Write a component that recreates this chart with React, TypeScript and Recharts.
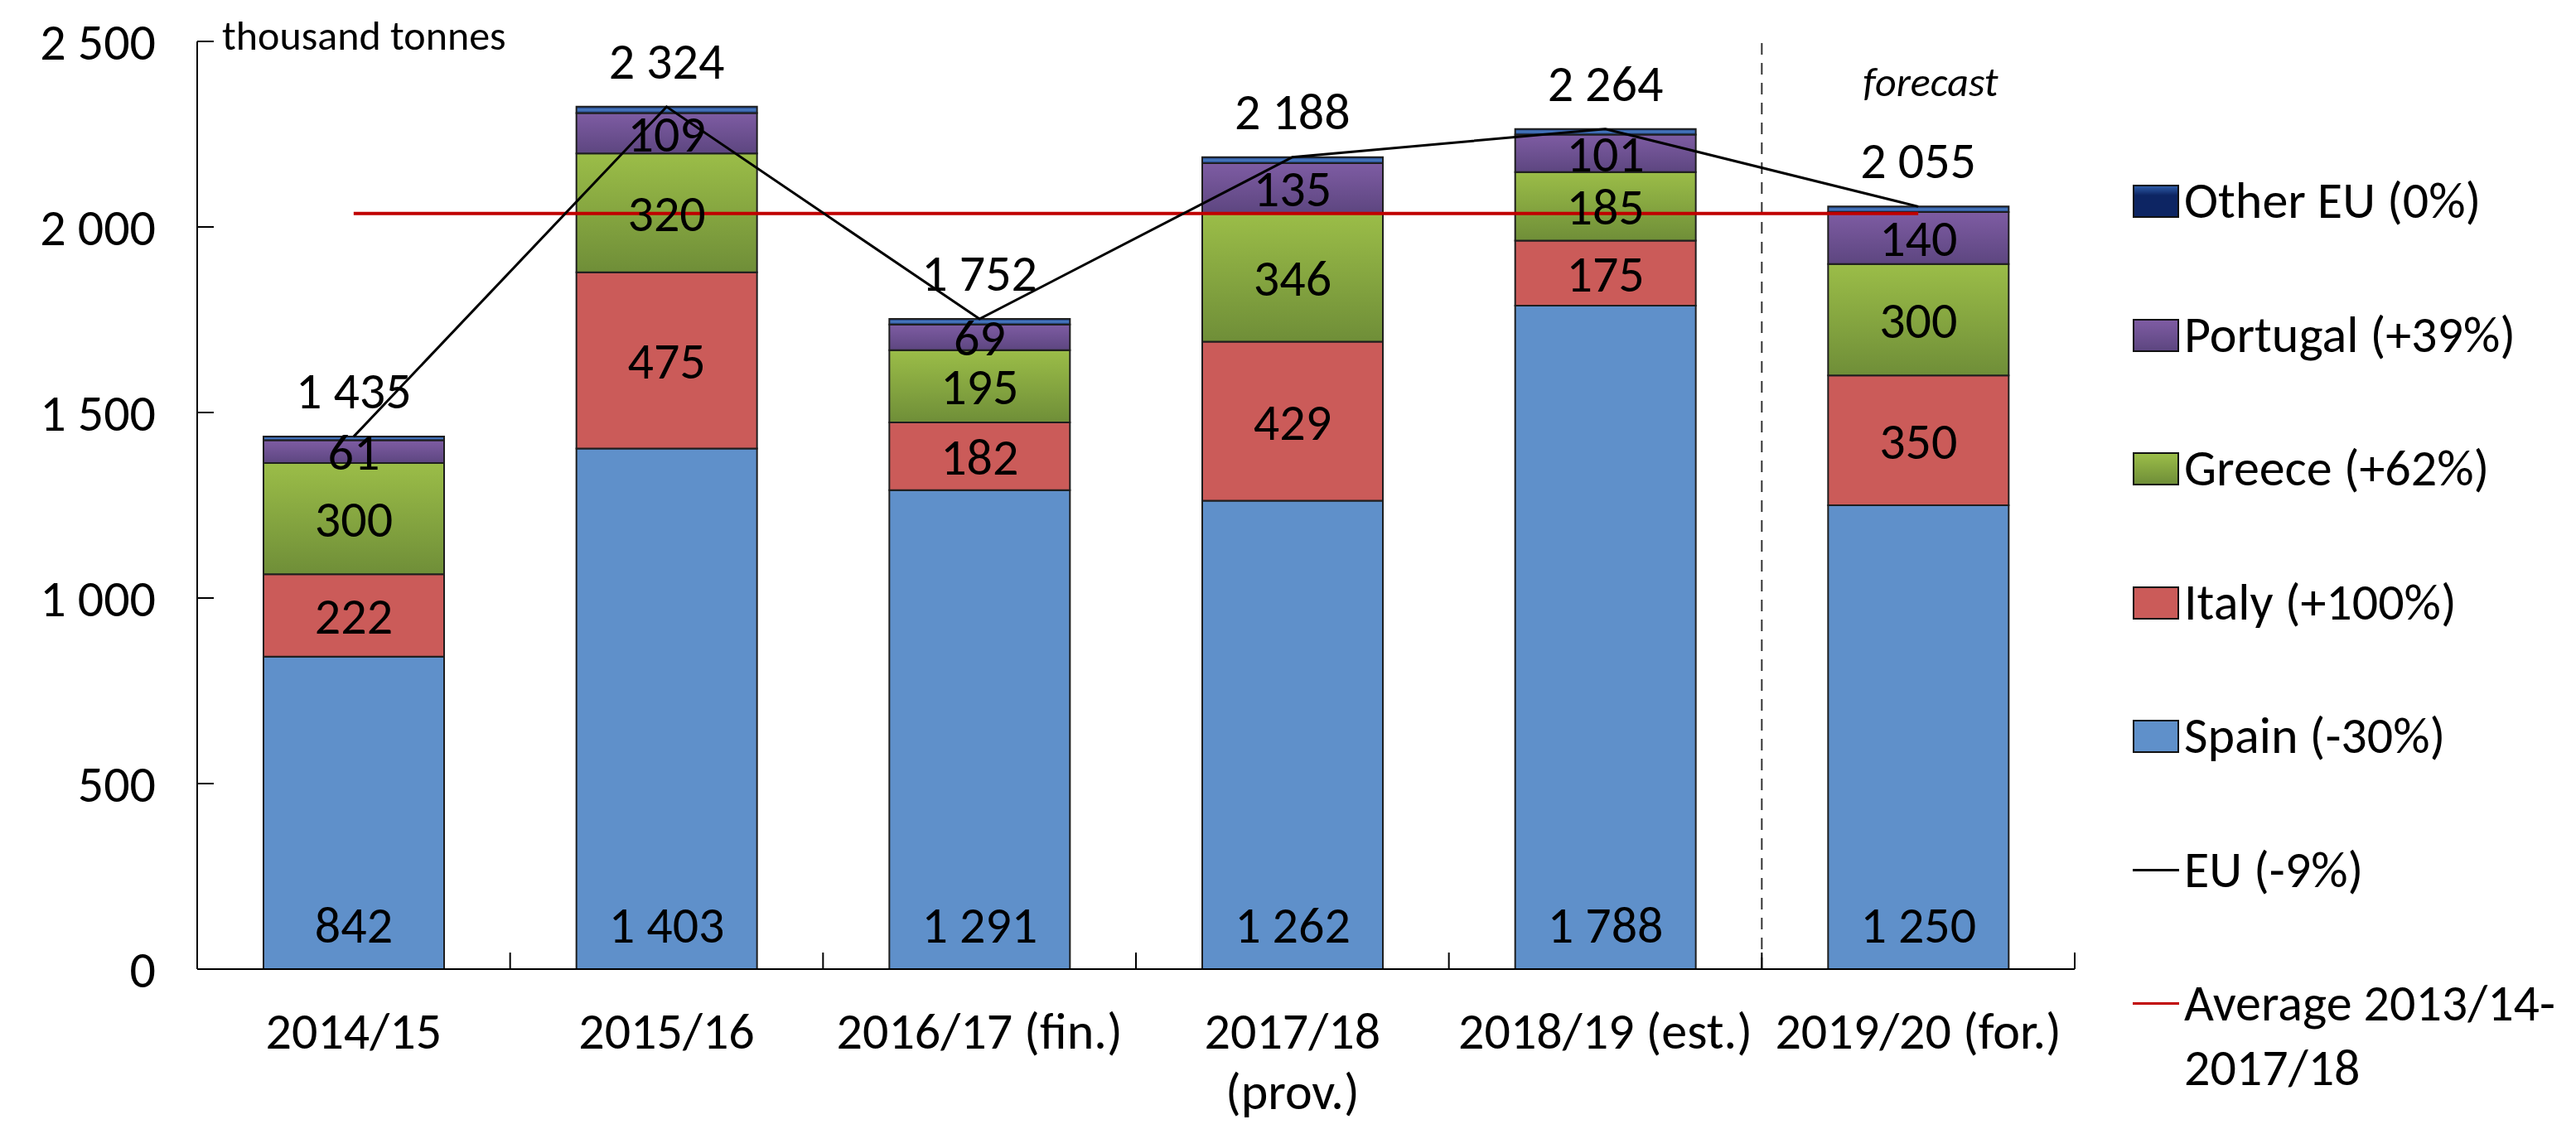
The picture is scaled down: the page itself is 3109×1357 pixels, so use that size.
import React from "react"
import { ComposedChart, Bar, Line, XAxis, YAxis, LabelList, ReferenceLine } from "recharts"

const seasons = ["2014/15", "2015/16", "2016/17 (fin.)", "2017/18\n(prov.)", "2018/19 (est.)", "2019/20 (for.)"]
const spain = [842, 1403, 1291, 1262, 1788, 1250]
const italy = [222, 475, 182, 429, 175, 350]
const greece = [300, 320, 195, 346, 185, 300]
const portugal = [61, 109, 69, 135, 101, 140]
const otherEU = [10, 17, 15, 16, 15, 15]
const euTotal = [1435, 2324, 1752, 2188, 2264, 2055]
const average = 2036
const yTicks = [0, 500, 1000, 1500, 2000, 2500]

const legendItems = [
  { label: "Other EU (0%)", kind: "box", bg: "linear-gradient(#2d5aa6, #0d2563 30%, #0d2563)" },
  { label: "Portugal (+39%)", kind: "box", bg: "linear-gradient(#7e5ca3, #5d4680)" },
  { label: "Greece (+62%)", kind: "box", bg: "linear-gradient(#9bbd48, #6f8e38)" },
  { label: "Italy (+100%)", kind: "box", bg: "#cb5b59" },
  { label: "Spain (-30%)", kind: "box", bg: "#5f90ca" },
  { label: "EU (-9%)", kind: "line", bg: "#000" },
  { label: "Average 2013/14-\n2017/18", kind: "line", bg: "#c00000" },
]

const data = seasons.map((season, i) => ({
  season,
  spain: spain[i],
  italy: italy[i],
  greece: greece[i],
  portugal: portugal[i],
  other: otherEU[i],
  eu: euTotal[i],
  avg: average,
}))

const FONT = "Carlito, Calibri, Lato, sans-serif"
const W = 3109
const H = 1357
const PLOT_LEFT = 238
const PLOT_RIGHT = 2504
const BAND = (PLOT_RIGHT - PLOT_LEFT) / seasons.length
const FS = 62

const fmt = (v: any) => String(v).replace(/\B(?=(\d{3})+(?!\d))/g, " ")

function XTick(props: any) {
  const { x, y, payload } = props
  const lines = String(payload.value).split("\n")
  return (
    <g>
      <line x1={x + BAND / 2} x2={x + BAND / 2} y1={y} y2={y - 20} stroke="#000" strokeWidth={2} />
      {lines.map((l, i) => (
        <text key={i} x={x} y={y + 96 + i * 73} textAnchor="middle" fontSize={FS} fontFamily={FONT} fill="#000">
          {l}
        </text>
      ))}
    </g>
  )
}

function YTick(props: any) {
  const { x, y, payload } = props
  return (
    <g>
      <line x1={x + 50} x2={x + 70} y1={y} y2={y} stroke="#000" strokeWidth={2} />
      <text x={x} y={y} dy="0.36em" textAnchor="end" fontSize={FS} fontFamily={FONT} fill="#000">
        {fmt(payload.value)}
      </text>
    </g>
  )
}

const labelStyle = { fontSize: FS, fontFamily: FONT, fill: "#000" }

export default function App() {
  return (
    <div style={{ position: "absolute", left: 0, top: 0, width: W, height: H, background: "#fff", fontFamily: FONT }}>
      <ComposedChart width={W} height={H} data={data} margin={{ top: 50, right: W - PLOT_RIGHT, bottom: 0, left: 0 }}>
        <defs>
          <linearGradient id="gGreece" x1="0" y1="0" x2="0" y2="1">
            <stop offset="0%" stopColor="#9bbd48" />
            <stop offset="100%" stopColor="#6f8e38" />
          </linearGradient>
          <linearGradient id="gPortugal" x1="0" y1="0" x2="0" y2="1">
            <stop offset="0%" stopColor="#7e5ca3" />
            <stop offset="100%" stopColor="#5d4680" />
          </linearGradient>
          <linearGradient id="gOther" x1="0" y1="0" x2="0" y2="1">
            <stop offset="0%" stopColor="#1b3a7a" />
            <stop offset="50%" stopColor="#4a7cc4" />
            <stop offset="100%" stopColor="#1b3a7a" />
          </linearGradient>
        </defs>
        <XAxis
          dataKey="season"
          height={187}
          interval={0}
          tickSize={0}
          tickMargin={0}
          tickLine={false}
          tick={<XTick />}
          axisLine={{ stroke: "#000", strokeWidth: 2 }}
        />
        <YAxis
          domain={[0, 2500]}
          ticks={yTicks}
          width={PLOT_LEFT}
          tickSize={0}
          tickMargin={50}
          tickLine={false}
          tick={<YTick />}
          axisLine={{ stroke: "#000", strokeWidth: 2 }}
        />
        <Bar dataKey="spain" stackId="a" barSize={218} fill="#5f90ca" stroke="#1e1e1e" strokeWidth={2} isAnimationActive={false}>
          <LabelList dataKey="spain" position="insideBottom" offset={32} formatter={fmt} style={labelStyle} />
        </Bar>
        <Bar dataKey="italy" stackId="a" barSize={218} fill="#cb5b59" stroke="#1e1e1e" strokeWidth={2} isAnimationActive={false}>
          <LabelList dataKey="italy" position="center" formatter={fmt} style={labelStyle} />
        </Bar>
        <Bar dataKey="greece" stackId="a" barSize={218} fill="url(#gGreece)" stroke="#1e1e1e" strokeWidth={2} isAnimationActive={false}>
          <LabelList dataKey="greece" position="center" formatter={fmt} style={labelStyle} />
        </Bar>
        <Bar dataKey="portugal" stackId="a" barSize={218} fill="url(#gPortugal)" stroke="#1e1e1e" strokeWidth={2} isAnimationActive={false}>
          <LabelList dataKey="portugal" position="center" formatter={fmt} style={labelStyle} />
        </Bar>
        <Bar dataKey="other" stackId="a" barSize={218} fill="url(#gOther)" stroke="#1e1e1e" strokeWidth={2} isAnimationActive={false} />
        <ReferenceLine x={seasons[5]} position="start" stroke="#333" strokeWidth={2} strokeDasharray="14 10" />
        <Line dataKey="avg" type="linear" stroke="#c00000" strokeWidth={4} dot={false} activeDot={false} isAnimationActive={false} />
        <Line dataKey="eu" type="linear" stroke="#000" strokeWidth={3} dot={false} activeDot={false} isAnimationActive={false}>
          <LabelList dataKey="eu" position="top" offset={34} formatter={fmt} style={labelStyle} />
        </Line>
      </ComposedChart>

      <div style={{ position: "absolute", left: 268, top: 13, fontSize: 50, lineHeight: "60px", whiteSpace: "nowrap" }}>
        thousand tonnes
      </div>
      <div style={{ position: "absolute", left: 2230, width: 200, textAlign: "center", top: 69, fontSize: 50, lineHeight: "60px", fontStyle: "italic" }}>
        forecast
      </div>

      {legendItems.map((item, i) => {
        const cy = 242 + i * 161.5
        return (
          <div key={item.label} style={{ position: "absolute", left: 2574, top: cy - 39, height: 78, display: "flex", alignItems: "flex-start" }}>
            <div style={{ width: 56, height: 78, position: "relative", flex: "none" }}>
              {item.kind === "box" ? (
                <div style={{ position: "absolute", left: 0, top: 20, width: 52, height: 36, background: item.bg, border: "2px solid #111" }} />
              ) : (
                <div style={{ position: "absolute", left: 0, top: 38, width: 56, height: 3, background: item.bg }} />
              )}
            </div>
            <div style={{ marginLeft: 6, fontSize: FS, lineHeight: "78px", whiteSpace: "pre" }}>{item.label}</div>
          </div>
        )
      })}
    </div>
  )
}
